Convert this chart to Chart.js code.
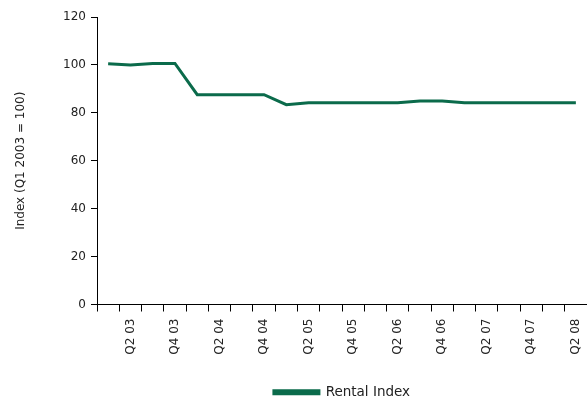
<!DOCTYPE html>
<html>
<head>
<meta charset="utf-8">
<script src="https://cdn.jsdelivr.net/npm/chart.js@4"></script>
<style>
  html, body { margin: 0; padding: 0; background: #ffffff; }
  #wrap { width: 587px; height: 403px; position: relative; }
</style>
</head>
<body>
<div id="wrap"><canvas id="c" width="587" height="403"></canvas></div>
<script>
// Quarterly categories, Q1 2003 through Q2 2008
const quarters = [
  'Q1 03', 'Q2 03', 'Q3 03', 'Q4 03',
  'Q1 04', 'Q2 04', 'Q3 04', 'Q4 04',
  'Q1 05', 'Q2 05', 'Q3 05', 'Q4 05',
  'Q1 06', 'Q2 06', 'Q3 06', 'Q4 06',
  'Q1 07', 'Q2 07', 'Q3 07', 'Q4 07',
  'Q1 08', 'Q2 08'
];

// Rental index, Q1 2003 = 100
const rentalIndex = [
  100.5, 100.0, 100.6, 100.6,
  87.6, 87.6, 87.6, 87.6,
  83.4, 84.2, 84.2, 84.2,
  84.2, 84.2, 84.9, 84.9,
  84.2, 84.2, 84.2, 84.2,
  84.2, 84.2
];

const seriesName = 'Rental Index';
const yTitle = 'Index (Q1 2003 = 100)';

const lineColour = '#0b6b4b';
const fontFamily = "'DejaVu Sans', 'Liberation Sans', sans-serif";
const textColour = '#222222';

new Chart(document.getElementById('c'), {
  type: 'line',
  data: {
    labels: quarters,
    datasets: [{
      label: seriesName,
      data: rentalIndex,
      borderColor: lineColour,
      backgroundColor: lineColour,
      borderWidth: 3,
      pointRadius: 0,
      tension: 0,
      fill: false
    }]
  },
  options: {
    responsive: false,
    animation: false,
    devicePixelRatio: 1,
    layout: { padding: { top: 17, right: 0, bottom: -6, left: 0 } },
    plugins: {
      legend: {
        position: 'bottom',
        fullSize: false,
        labels: {
          boxWidth: 45,
          boxHeight: 3,
          color: textColour,
          font: { family: fontFamily, size: 13.5 },
          padding: 6
        }
      },
      tooltip: { enabled: false }
    },
    scales: {
      x: {
        type: 'category',
        offset: true,
        border: { display: true, color: '#000000', width: 1 },
        grid: {
          display: true,
          offset: true,
          drawOnChartArea: false,
          drawTicks: true,
          tickLength: 7,
          color: '#000000'
        },
        ticks: {
          autoSkip: false,
          minRotation: 90,
          maxRotation: 90,
          padding: 7,
          color: textColour,
          font: { family: fontFamily, size: 12 },
          callback: function (value, index) {
            return index % 2 === 1 ? quarters[index] : '';
          }
        },
        afterFit: function (scale) {
          scale.height = 75;
          scale.paddingLeft = 0;
          scale.paddingRight = 0;
        }
      },
      y: {
        min: 0,
        max: 120,
        border: { display: true, color: '#000000', width: 1 },
        grid: {
          display: true,
          drawOnChartArea: false,
          drawTicks: true,
          tickLength: 6,
          color: '#000000'
        },
        ticks: {
          stepSize: 20,
          padding: 5,
          color: textColour,
          font: { family: fontFamily, size: 12 }
        },
        title: {
          display: true,
          text: yTitle,
          color: textColour,
          font: { family: fontFamily, size: 12 },
          padding: { top: 14, bottom: 0 }
        },
        afterFit: function (scale) {
          scale.width = 97;
        }
      }
    }
  }
});
</script>
</body>
</html>
